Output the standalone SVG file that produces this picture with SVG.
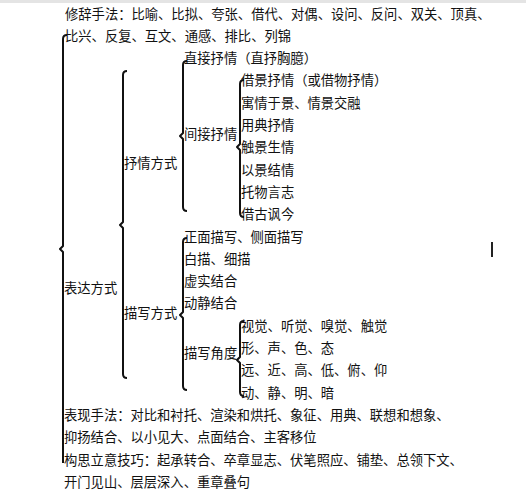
<svg xmlns="http://www.w3.org/2000/svg" width="526" height="500" viewBox="0 0 526 500">
<style>
text{font-family:"Noto Sans CJK SC","Noto Sans",sans-serif;font-size:13.3px;fill:#111}
.br{fill:none;stroke:#111;stroke-width:2;stroke-linejoin:round}
</style>
<rect width="526" height="500" fill="#fff"/>
<rect width="526" height="3" fill="#e4e4e4"/>
<g id="connectors">
<path class="br" d="M67,35 Q63,35 63,39 V246 L60,249 L63,252 V463"/>
<path class="br" d="M127,71 Q123,71 123,75 V222 L120,225 L123,228 V374 Q123,378 127,378"/>
<path class="br" d="M187,61 Q183,61 183,65 V133 L180,136 L183,139 V207 Q183,211 187,211"/>
<path class="br" d="M187,238 Q183,238 183,242 V312 L180,315 L183,318 V386 Q183,390 187,390"/>
<path class="br" d="M244,80 Q240,80 240,84 V144 L237,147 L240,150 V213 Q240,217 244,217"/>
<path class="br" d="M244,321 Q240,321 240,325 V357 L237,360 L240,363 V392 Q240,396 244,396"/>
</g>
<g id="root"><text x="64" y="293">表达方式</text></g>
<g id="xiuci"><text x="65" y="18.5">修辞手法：比喻、比拟、夸张、借代、对偶、设问、反问、双关、顶真、</text><text x="65" y="40.8">比兴、反复、互文、通感、排比、列锦</text></g>
<g id="shuqing"><text x="124" y="168">抒情方式</text></g>
<g id="zhijie"><text x="184" y="63.1">直接抒情（直抒胸臆）</text></g>
<g id="jianjie"><text x="184" y="139">间接抒情</text></g>
<g id="j1"><text x="241" y="85.4">借景抒情（或借物抒情）</text></g>
<g id="j2"><text x="241" y="107.7">寓情于景、情景交融</text></g>
<g id="j3"><text x="241" y="130">用典抒情</text></g>
<g id="j4"><text x="241" y="152.3">触景生情</text></g>
<g id="j5"><text x="241" y="174.6">以景结情</text></g>
<g id="j6"><text x="241" y="196.9">托物言志</text></g>
<g id="j7"><text x="241" y="219.2">借古讽今</text></g>
<g id="miaoxie"><text x="124" y="318">描写方式</text></g>
<g id="m1"><text x="184" y="241.5">正面描写、侧面描写</text></g>
<g id="m2"><text x="184" y="263.8">白描、细描</text></g>
<g id="m3"><text x="184" y="286.1">虚实结合</text></g>
<g id="m4"><text x="184" y="308.4">动静结合</text></g>
<g id="jiaodu"><text x="184" y="358">描写角度</text></g>
<g id="a1"><text x="241" y="330.7">视觉、听觉、嗅觉、触觉</text></g>
<g id="a2"><text x="241" y="353">形、声、色、态</text></g>
<g id="a3"><text x="241" y="375.3">远、近、高、低、俯、仰</text></g>
<g id="a4"><text x="241" y="397.6">动、静、明、暗</text></g>
<g id="biaoxian"><text x="64" y="419.9">表现手法：对比和衬托、渲染和烘托、象征、用典、联想和想象、</text><text x="64" y="442.2">抑扬结合、以小见大、点面结合、主客移位</text></g>
<g id="gousi"><text x="64" y="464.5">构思立意技巧：起承转合、卒章显志、伏笔照应、铺垫、总领下文、</text><text x="64" y="486.8">开门见山、层层深入、重章叠句</text></g>
<line x1="492" y1="242" x2="492" y2="257" stroke="#222" stroke-width="2"/>
</svg>
